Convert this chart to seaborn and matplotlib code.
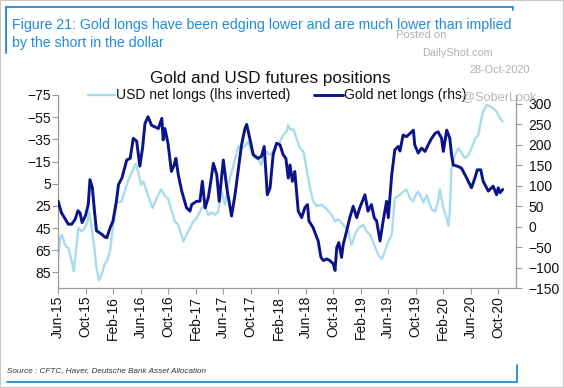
import numpy as np
import pandas as pd
import matplotlib
matplotlib.use("Agg")
import matplotlib.pyplot as plt
import matplotlib.dates as mdates
from matplotlib.lines import Line2D
from matplotlib.patches import Rectangle
import seaborn as sns

# ---- data (months since Jun-2015) ----
usd_months = [0.0, 0.3, 0.6, 1.0, 1.5, 2.0, 2.3, 2.7, 2.95, 3.45, 3.9, 4.3, 4.55, 4.9, 5.3, 5.6,
              5.95, 6.35, 6.75, 7.1, 7.55, 8.05, 8.55, 9.25, 10.0, 10.7, 11.3, 11.7, 12.05, 12.4,
              12.75, 13.25, 13.75, 14.35, 15.0, 15.45, 16.05, 16.6, 17.0, 17.5, 18.25, 18.7, 19.2,
              19.7, 20.15, 20.9, 21.4, 21.85, 22.35, 22.85, 23.3, 23.8, 24.3, 24.75, 25.5, 26.25,
              26.7, 27.2, 27.7, 28.15, 28.65, 29.15, 29.55, 29.85, 30.35, 30.85, 31.3, 31.8, 32.3,
              32.75, 33.25, 33.5, 33.75, 34.25, 34.7, 35.2, 35.7, 36.15, 36.65, 37.15, 37.6, 38.35,
              39.1, 39.8, 40.3, 40.75, 41.5, 42.25, 42.7, 43.2, 43.7, 44.4, 44.9, 45.4, 46.0, 46.6,
              47.1, 47.55, 48.05, 48.55, 49.0, 49.75, 50.25, 50.7, 51.2, 51.7, 52.05, 52.4, 52.9,
              53.15, 53.65, 54.0, 54.35, 54.85, 55.3, 55.55, 56.05, 56.55, 56.8, 57.0, 57.25, 57.75,
              58.25, 58.7, 59.2, 59.7, 60.15, 60.65, 61.15, 61.5, 61.85, 62.35, 62.85, 63.3, 63.8,
              64.3, 64.7]
usd_values = [75, 54, 51, 60, 63, 75, 84, 60, 45, 48, 45, 39, 30, 45, 63, 81,
              92, 87, 78, 75, 66, 42, 22, 21, 6, -5, -13, -5, 6, 3,
              9, 18, 27, 18, 10, 15, 19, 31, 39, 42, 57, 51, 45,
              39, 36, 27, 24, 33, 31, 33, 30, 12, 24, 6, -11, -29,
              -27, -29, -33, -23, -18, -17, -12, -20, -24, -21, -24, -30, -33,
              -39, -42, -48, -44, -44, -36, -27, -24, -9, 9, 21, 25, 24,
              28, 33, 39, 37, 42, 48, 60, 51, 45, 42, 48, 51, 60, 69,
              73, 66, 57, 51, 18, 15, 12, 10, 18, 21, 15, 12, 18,
              22, 15, 22, 28, 30, 21, 10, 27, 36, 43, 30, -9, -21,
              -27, -23, -18, -21, -27, -35, -39, -51, -60, -66, -65, -63, -60,
              -54, -51]

gold_months = [0.0, 0.5, 1.5, 2.0, 2.5, 2.9, 3.2, 3.5, 4.0, 4.4, 4.65, 5.0, 5.3, 5.6, 6.4, 6.8,
               7.1, 7.6, 8.0, 8.5, 8.8, 9.3, 10.0, 10.5, 10.95, 11.45, 11.9, 12.3, 12.65, 13.1,
               13.6, 14.1, 14.6, 15.1, 15.3, 15.55, 16.0, 16.5, 16.9, 17.15, 17.5, 18.0, 18.7,
               19.2, 19.45, 20.15, 20.65, 21.0, 21.4, 21.85, 22.2, 22.6, 23.1, 23.45, 24.05, 24.55,
               25.25, 25.75, 26.25, 26.7, 27.2, 27.45, 27.9, 28.4, 29.1, 29.6, 30.0, 30.45, 30.85,
               31.3, 31.8, 32.3, 32.75, 33.15, 33.5, 33.75, 34.1, 34.45, 34.95, 35.45, 35.9, 36.3,
               36.5, 37.1, 37.85, 38.25, 38.6, 39.1, 39.55, 40.05, 40.3, 40.55, 40.85, 41.25, 41.5,
               42.0, 42.45, 42.95, 43.45, 43.9, 44.65, 45.1, 45.6, 46.0, 46.35, 46.85, 47.3, 47.8,
               48.05, 48.55, 49.0, 49.5, 49.75, 50.2, 50.7, 51.2, 51.7, 51.9, 52.4, 52.9, 53.4,
               53.85, 54.35, 54.85, 55.3, 55.8, 56.05, 56.55, 57.0, 57.25, 57.5, 58.25, 58.7, 59.45,
               60.15, 60.65, 61.0, 61.5, 61.85, 62.6, 63.3, 63.8, 64.05, 64.3, 64.7]
gold_values = [63, 34, 6, 6, 18, 39, 34, 10, 27, 54, 115, 95, 39, -10, -19, -25,
               -27, -2, 14, 63, 103, 119, 163, 167, 216, 209, 148, 192, 252, 269,
               248, 244, 240, 265, 212, 240, 204, 135, 151, 167, 127, 87, 46,
               38, 54, 62, 62, 111, 46, 70, 107, 155, 127, 62, 163, 95,
               26, 78, 143, 200, 240, 250, 216, 176, 167, 172, 196, 78, 95,
               176, 204, 200, 176, 167, 119, 151, 111, 135, 38, 22, 46, 54,
               14, -2, -35, -75, -83, -79, -83, -91, -107, -51, -39, -75, -43,
               -10, 22, 50, 22, 46, 78, 38, 54, 22, 14, -35, 14, 62,
               22, 127, 188, 196, 185, 224, 220, 228, 236, 200, 180, 192, 184,
               200, 216, 228, 232, 216, 184, 236, 216, 176, 151, 147, 143, 119,
               95, 119, 139, 139, 111, 87, 99, 78, 95, 83, 91]

left_ticks = [-75, -55, -35, -15, 5, 25, 45, 65, 85]
right_ticks = [-150, -100, -50, 0, 50, 100, 150, 200, 250, 300]

start = pd.Timestamp("2015-06-01")
def to_dates(m):
    return start + pd.to_timedelta(np.array(m) * 30.4375, unit="D")

usd_df = pd.DataFrame({"date": to_dates(usd_months), "value": usd_values})
gold_df = pd.DataFrame({"date": to_dates(gold_months), "value": gold_values})

sns.set_theme(style="white")
plt.rcParams["font.family"] = ["Liberation Sans", "DejaVu Sans"]

W, H = 564, 388
fig = plt.figure(figsize=(W / 100, H / 100), dpi=100)
def fx(x): return x / W
def fy(y): return 1 - y / H

ax = fig.add_axes([fx(58), fy(288), fx(516) - fx(58), fy(95) - fy(288)])
ax2 = ax.twinx()

light = "#a8dcec"
dark = "#0b138a"
sns.lineplot(data=usd_df, x="date", y="value", ax=ax, color=light, lw=1.7)
sns.lineplot(data=gold_df, x="date", y="value", ax=ax2, color=dark, lw=2.1)

ax.set_ylim(99, -75)
ax2.set_ylim(-150, 322)
ax.set_xlim(pd.Timestamp("2015-06-01"), pd.Timestamp("2020-12-19"))
ax.set_yticks(left_ticks)
ax2.set_yticks(right_ticks)
ax.xaxis.set_major_locator(mdates.MonthLocator(bymonth=[2, 6, 10]))
ax.xaxis.set_major_formatter(mdates.DateFormatter("%b-%y"))
for a in (ax, ax2):
    a.set_xlabel("")
    a.set_ylabel("")
    a.grid(False)
    for s in a.spines.values():
        s.set_visible(False)

spc = "#9a9a9a"
ax.spines["left"].set_visible(True)
ax.spines["left"].set_color(spc)
ax.spines["bottom"].set_visible(True)
ax.spines["bottom"].set_color(spc)
ax2.spines["right"].set_visible(True)
ax2.spines["right"].set_color(spc)
for s in ("left", "bottom"):
    ax.spines[s].set_linewidth(0.9)
ax2.spines["right"].set_linewidth(0.9)

ax.tick_params(axis="y", which="major", left=True, length=4, width=0.8, color=spc,
               labelsize=10, pad=1, labelcolor="#111111")
ax.tick_params(axis="x", which="major", bottom=True, length=4, width=0.8, color=spc,
               labelsize=10, pad=1.5, labelrotation=90, labelcolor="#111111")
ax2.tick_params(axis="y", which="major", right=True, length=4, width=0.8, color=spc,
                labelsize=10, pad=5, labelcolor="#111111")

# titles
blue = "#1f8dd6"
fig.text(fx(12), fy(29), "Figure 21: Gold longs have been edging lower and are much lower than implied",
         color=blue, fontsize=10.2, va="baseline", ha="left")
fig.text(fx(12), fy(47), "by the short in the dollar", color=blue, fontsize=10.2,
         va="baseline", ha="left")
fig.text(fx(270), fy(83), "Gold and USD futures positions", color="#111111", fontsize=12.3,
         va="baseline", ha="center")

# legend
fig.add_artist(Line2D([fx(88), fx(115)], [fy(95), fy(95)], color=light, lw=1.7))
fig.text(fx(116), fy(99.5), "USD net longs (lhs inverted)", fontsize=10, va="baseline",
         ha="left", color="#111111")
fig.add_artist(Line2D([fx(314), fx(343)], [fy(95), fy(95)], color=dark, lw=2.1))
fig.text(fx(344), fy(99.5), "Gold net longs (rhs)", fontsize=10, va="baseline",
         ha="left", color="#111111")

# watermark
wm = "#b0b0b0"
fig.text(fx(396), fy(38), "Posted on", color=wm, fontsize=8, va="baseline")
fig.text(fx(422), fy(56), "DailyShot.com", color=wm, fontsize=7.8, va="baseline")
fig.text(fx(470), fy(73), "28-Oct-2020", color=wm, fontsize=7.8, va="baseline")
fig.text(fx(462), fy(100), "@SoberLook", color=wm, fontsize=9.2, va="baseline", alpha=0.9)

# source
fig.text(fx(7), fy(372), "Source : CFTC, Haver, Deutsche Bank Asset Allocation",
         fontsize=5.9, style="italic", color="#333333", va="baseline", ha="left")

# frame lines
fig.add_artist(Line2D([fx(6), fx(513)], [fy(7), fy(7)], color=blue, lw=1.3))
fig.add_artist(Line2D([fx(6), fx(6)], [fy(7), fy(53)], color=blue, lw=1.3))
fig.add_artist(Line2D([fx(513), fx(513)], [fy(7), fy(10)], color=blue, lw=1.3))
fig.add_artist(Line2D([fx(7), fx(517)], [fy(382), fy(382)], color=blue, lw=1.3))
fig.add_artist(Line2D([fx(517), fx(517)], [fy(365), fy(382)], color=blue, lw=1.3))
fig.add_artist(Rectangle((0, 0), 1, 1, transform=fig.transFigure, fill=False,
                         edgecolor="#c8c8c8", lw=1.5))

fig.savefig("out.png", dpi=100)
